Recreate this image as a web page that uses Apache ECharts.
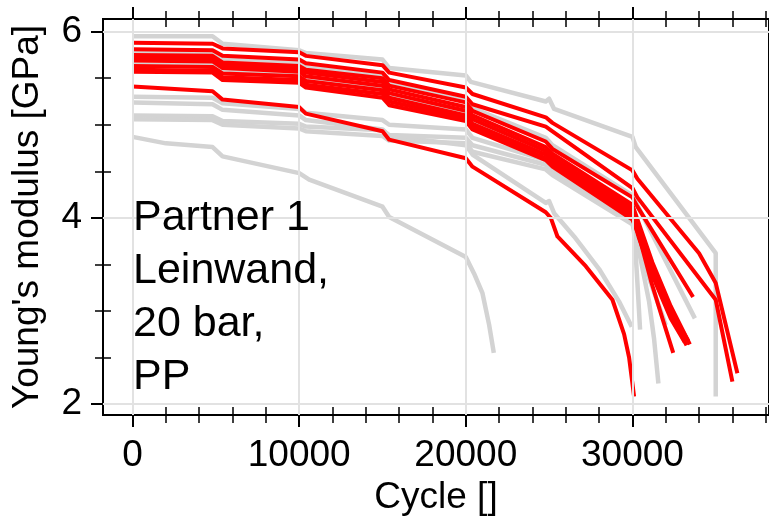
<!DOCTYPE html>
<html><head><meta charset="utf-8">
<script src="https://cdn.jsdelivr.net/npm/echarts@6/dist/echarts.min.js"></script>
<style>html,body{margin:0;padding:0;background:#fff}#c{width:769px;height:521px}</style>
</head><body><div id="c"></div>
<script>
// ---- tick values and labels ----
const xMajorTicks = [0, 10000, 20000, 30000];
const xMinorTicks = [2000, 4000, 6000, 8000, 12000, 14000, 16000, 18000, 22000, 24000, 26000, 28000, 32000, 34000, 36000, 38000];
const yMajorTicks = [2, 4, 6];
const yMinorTicks = [2.5, 3, 3.5, 4.5, 5, 5.5];
const xTitle = 'Cycle []';
const yTitle = "Young's modulus [GPa]";
const annotationLines = ['Partner 1', 'Leinwand,', '20 bar,', 'PP'];

// ---- grey (other) curves: [cycle, modulus GPa] ----
const gray1 = [[0,5.95],[4800,5.95],[5400,5.87],[10000,5.80],[10400,5.77],[15000,5.70],[15400,5.61],[20000,5.53],[20300,5.46],[24800,5.25],[25000,5.28],[25300,5.17],[30000,4.87],[30200,4.76],[35000,3.62],[35000,2.08]];
const gray2 = [[0,5.78],[4800,5.77],[5400,5.70],[10000,5.66],[10400,5.62],[15000,5.52],[15400,5.44],[20000,5.27],[20400,5.18],[24800,4.86],[25200,4.78],[30000,4.24],[30400,4.10],[33750,2.92]];
const gray3 = [[0,5.65],[4800,5.64],[5400,5.57],[10000,5.53],[10400,5.49],[15000,5.39],[15400,5.31],[20000,5.12],[20400,5.03],[24800,4.70],[25200,4.63],[30000,4.08],[30400,3.85],[31500,3.35],[32700,2.80]];
const gray4 = [[0,5.30],[4800,5.29],[5400,5.23],[10000,5.17],[10400,5.13],[15000,5.05],[15400,5.00],[20000,4.95],[20400,4.86],[24800,4.62],[25200,4.55],[30000,4.02],[30150,3.75],[30300,3.30],[30460,2.80]];
const gray5 = [[0,5.24],[4800,5.22],[5400,5.16],[10000,5.10],[10400,5.05],[15000,4.95],[15400,4.88],[20000,4.78],[20400,4.68],[24800,4.16],[25000,4.18],[25300,4.05],[26500,3.80],[28000,3.45],[29200,3.10],[29960,2.83]];
const gray6 = [[0,5.10],[4800,5.09],[5400,5.04],[10000,5.01],[10400,4.98],[15000,4.94],[15400,4.89],[20000,4.86],[20400,4.78],[24800,4.57],[25200,4.50],[30000,3.97],[30500,3.55],[31000,3.10],[31300,2.70],[31560,2.22]];
const gray7 = [[0,5.06],[4800,5.05],[5400,5.00],[10000,4.96],[10400,4.93],[15000,4.88],[15400,4.83],[20000,4.80],[20400,4.71],[24800,4.52],[25200,4.46],[30000,3.93],[31000,3.35],[32000,2.85]];
const gray8 = [[0,4.87],[2000,4.80],[4800,4.76],[5400,4.66],[10000,4.48],[10600,4.41],[15000,4.12],[15400,4.01],[20000,3.58],[20500,3.40],[21000,3.19],[21400,2.85],[21680,2.55]];

// ---- red (highlighted) curves ----
const red1 = [[0,5.88],[4800,5.87],[5400,5.82],[10000,5.78],[10400,5.74],[15000,5.64],[15400,5.56],[20000,5.40],[20400,5.33],[24800,5.08],[25200,5.02],[30000,4.51],[30300,4.42],[34000,3.62],[35000,3.30],[36300,2.33]];
const red2 = [[0,5.81],[4800,5.80],[5400,5.74],[10000,5.70],[10400,5.66],[15000,5.56],[15400,5.48],[20000,5.30],[20400,5.22],[24800,4.98],[25200,4.93],[30000,4.32],[30300,4.22],[35000,3.12],[36000,2.24]];
const red3 = [[0,5.75],[4800,5.74],[5400,5.67],[10000,5.63],[10400,5.59],[15000,5.50],[15400,5.42],[20000,5.24],[20400,5.15],[24800,4.82],[25200,4.74],[30000,4.22],[30300,4.12],[33640,3.15]];
const red4 = [[0,5.72],[4800,5.71],[5400,5.64],[10000,5.60],[10400,5.56],[15000,5.46],[15400,5.38],[20000,5.19],[20400,5.10],[24800,4.76],[25200,4.69],[30000,4.14],[30500,3.88],[31200,3.52],[32300,3.05],[33450,2.64]];
const red5 = [[0,5.69],[4800,5.68],[5400,5.61],[10000,5.57],[10400,5.52],[15000,5.42],[15400,5.34],[20000,5.15],[20400,5.06],[24800,4.72],[25200,4.65],[30000,4.10],[30500,3.82],[31200,3.47],[32300,3.00],[33350,2.68]];
const red6 = [[0,5.63],[4800,5.62],[5400,5.55],[10000,5.52],[10400,5.47],[15000,5.37],[15400,5.29],[20000,5.10],[20400,5.01],[24800,4.68],[25200,4.61],[30000,4.06],[30400,3.80],[31200,3.40],[32300,2.96],[33250,2.63]];
const red7 = [[0,5.59],[4800,5.58],[5400,5.51],[10000,5.48],[10400,5.43],[15000,5.33],[15400,5.25],[20000,5.07],[20400,4.98],[24800,4.64],[25200,4.58],[30000,4.02],[30400,3.78],[31200,3.38],[32300,2.92],[33150,2.66]];
const red8 = [[0,5.57],[4800,5.56],[5400,5.48],[10000,5.45],[10400,5.40],[15000,5.29],[15400,5.21],[20000,5.04],[20400,4.95],[24800,4.62],[25200,4.55],[30000,3.98],[30360,3.83],[31150,3.30],[31800,2.92],[32450,2.55]];
const red9 = [[0,5.41],[4800,5.36],[5400,5.27],[10000,5.19],[10400,5.12],[15000,4.93],[15400,4.84],[20000,4.64],[20400,4.55],[24800,4.06],[25100,4.00],[25500,3.80],[27200,3.48],[28800,3.12],[29500,2.75],[29800,2.50],[30100,2.08]];

const grayCurves = [gray1, gray2, gray3, gray4, gray5, gray6, gray7, gray8];
const redCurves = [red1, red2, red3, red4, red5, red6, red7, red8, red9];

// ---- axis ranges ----
const X_MIN = -1777, X_MAX = 38198;
const Y_MIN = 1.882, Y_MAX = 6.136;

const FONT = '"Liberation Sans", Arial, sans-serif';
const chart = echarts.init(document.getElementById('c'), null, {renderer: 'canvas'});

function tickAxis(pos, values, offset, len, width, base) {
  return Object.assign({
    type: 'value', position: pos, offset: offset,
    axisLine: {show: false, onZero: false}, splitLine: {show: false},
    axisLabel: {show: false},
    axisTick: {show: true, inside: true, length: len, customValues: values,
      lineStyle: {color: '#000', width: width}}
  }, base);
}
const xBase = {min: X_MIN, max: X_MAX};
const yBase = {min: Y_MIN, max: Y_MAX};

const series = [];
series.push({
  type: 'line', data: [], silent: true, z: 1,
  markLine: {
    silent: true, symbol: 'none', animation: false,
    label: {show: false},
    lineStyle: {color: '#e2e2e2', width: 2, type: 'solid'},
    data: xMajorTicks.map(v => ({xAxis: v})).concat(yMajorTicks.map(v => ({yAxis: v})))
  }
});
grayCurves.forEach(d => series.push({
  type: 'line', data: d, symbol: 'none', showSymbol: false, silent: true, z: 2,
  lineStyle: {color: '#d3d3d3', width: 4.5, join: 'round', cap: 'butt'}
}));
redCurves.forEach(d => series.push({
  type: 'line', data: d, symbol: 'none', showSymbol: false, silent: true, z: 3,
  lineStyle: {color: '#ff0000', width: 4, join: 'round', cap: 'butt'}
}));

chart.setOption({
  animation: false,
  backgroundColor: '#fff',
  grid: {left: 103, top: 19, width: 668, height: 396, show: true,
    borderColor: '#000', borderWidth: 2, backgroundColor: 'transparent', containLabel: false},
  xAxis: [
    Object.assign({
      type: 'value', position: 'bottom',
      axisLine: {show: false, onZero: false}, axisTick: {show: false}, splitLine: {show: false},
      axisLabel: {show: true, customValues: xMajorTicks, margin: 22,
        formatter: v => String(v),
        color: '#000', fontSize: 37, fontFamily: FONT},
      name: xTitle, nameLocation: 'middle', nameGap: 63,
      nameTextStyle: {color: '#000', fontSize: 37, fontFamily: FONT}
    }, xBase),
    tickAxis('bottom', xMajorTicks, 12, 24, 2, xBase),
    tickAxis('bottom', xMinorTicks, 8, 16, 1.5, xBase),
    tickAxis('top', xMajorTicks, 12, 24, 2, xBase),
    tickAxis('top', xMinorTicks, 8, 16, 1.5, xBase)
  ],
  yAxis: [
    Object.assign({
      type: 'value', position: 'left',
      axisLine: {show: false, onZero: false}, axisTick: {show: false}, splitLine: {show: false},
      axisLabel: {show: true, customValues: yMajorTicks, margin: 21,
        formatter: v => String(v),
        color: '#000', fontSize: 37, fontFamily: FONT},
      name: yTitle, nameLocation: 'middle', nameGap: 57, nameRotate: 90,
      nameTextStyle: {color: '#000', fontSize: 37, fontFamily: FONT}
    }, yBase),
    tickAxis('left', yMajorTicks, 12, 24, 2, yBase),
    tickAxis('left', yMinorTicks, 8, 16, 1.5, yBase)
  ],
  graphic: [{
    type: 'text', left: 133, top: 191, z: 10, silent: true,
    style: {text: annotationLines.join('\n'), fill: '#000',
      fontSize: 43, fontFamily: FONT, lineHeight: 53.3}
  }],
  series: series
});
</script></body></html>
